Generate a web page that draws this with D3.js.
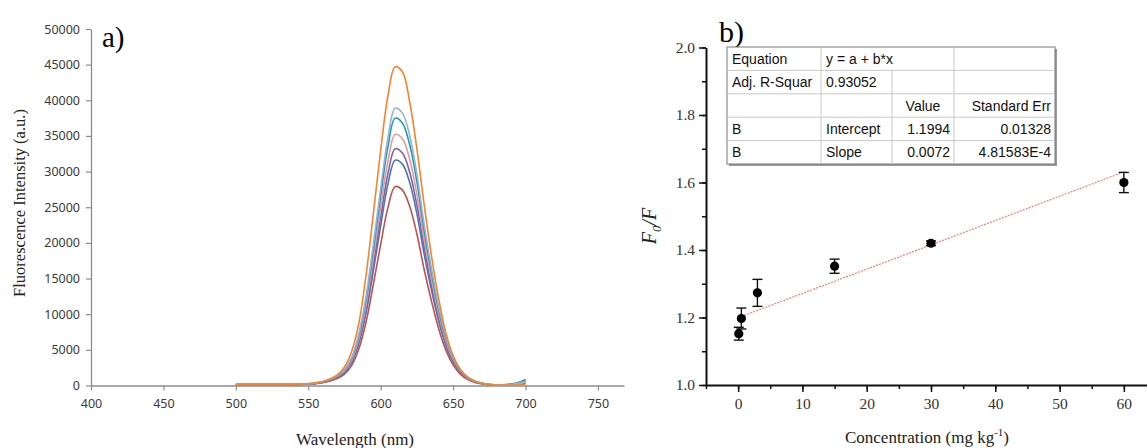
<!DOCTYPE html>
<html>
<head>
<meta charset="utf-8">
<script src="https://cdn.jsdelivr.net/npm/d3@7"></script>
<style>
  body { margin: 0; background: #fff; }
  svg { display: block; }
</style>
</head>
<body>
<div id="chart"></div>
<script>
// ---- panel a data : emission spectra ----
var wavelength = [500,505,510,515,520,525,530,535,540,545,550,555,560,565,570,575,580,585,590,595,600,605,610,615,620,625,630,635,640,645,650,655,660,665,670,675,680,685,690,695,700];

var orangeSeries = [150,150,150,150,150,150,150,150,170,200,260,380,550,900,1500,2600,4800,8800,15600,24200,33000,40600,44700,44000,39800,33200,25400,18300,12200,7400,4200,2250,1180,600,300,150,80,50,50,70,120];
var lightBlueSeries = [160,160,160,160,160,160,160,160,160,200,240,350,550,870,1380,2250,3940,7300,12600,19900,27600,34700,38900,38200,35100,29600,22600,16500,11100,6900,4000,2250,1180,620,320,160,80,80,150,300,550];
var tealSeries = [160,160,160,160,160,160,160,160,160,190,230,340,530,840,1330,2170,3800,7050,12150,19150,26600,33500,37500,36800,33800,28600,21800,15900,10700,6650,3900,2150,1160,600,300,150,80,100,200,420,850];
var pinkSeries = [140,140,140,140,140,140,140,140,140,180,210,320,500,790,1250,2030,3570,6620,11400,18000,25000,31450,35200,34600,31750,26850,20550,15000,10100,6250,3650,2020,1080,560,290,140,70,70,120,250,450];
var purpleSeries = [135,135,135,135,135,135,135,135,135,170,200,300,470,740,1180,1920,3370,6250,10750,17000,23550,29700,33200,32600,29950,25300,19400,14100,9500,5900,3450,1900,1020,530,270,135,70,70,110,220,400];
var blueSeries = [130,130,130,130,130,130,130,130,130,160,190,290,450,700,1120,1830,3200,5950,10250,16150,22400,28250,31600,31050,28500,24100,18450,13450,9050,5620,3280,1820,970,500,260,130,65,90,180,360,700];
var redSeries = [115,115,115,115,115,115,115,115,115,140,170,250,400,620,990,1610,2830,5200,8980,14250,19800,24950,27900,27400,25150,21250,16300,11900,8000,4960,2900,1600,860,440,230,110,60,60,90,180,320];

var spectra = [
  {values: redSeries, color: "#c0504d"},
  {values: blueSeries, color: "#4a76b8"},
  {values: purpleSeries, color: "#7f62a5"},
  {values: pinkSeries, color: "#e39a9c"},
  {values: tealSeries, color: "#1d98b0"},
  {values: lightBlueSeries, color: "#95b3d7"},
  {values: orangeSeries, color: "#f5852c"}
];

var aXTicks = [400,450,500,550,600,650,700,750];
var aYTicks = [0,5000,10000,15000,20000,25000,30000,35000,40000,45000,50000];

// ---- panel b data : Stern-Volmer style plot ----
var concentration = [0.1, 0.5, 3, 15, 30, 60];
var ratio = [1.152, 1.197, 1.273, 1.352, 1.420, 1.600];
var ratioErr = [0.019, 0.031, 0.040, 0.021, 0.007, 0.030];
var fitIntercept = 1.1994, fitSlope = 0.0072;
var fitRange = [0.5, 60];

var bXTicks = [0,10,20,30,40,50,60];
var bYTicks = [1.0,1.2,1.4,1.6,1.8,2.0];

var tableRows = [
  ["Equation", "y = a + b*x", "", ""],
  ["Adj. R-Squar", "0.93052", "", ""],
  ["", "", "Value", "Standard Err"],
  ["B", "Intercept", "1.1994", "0.01328"],
  ["B", "Slope", "0.0072", "4.81583E-4"]
];

var width = 1147, height = 448;
var serif = "'Liberation Serif', 'Times New Roman', serif";

var svg = d3.select("#chart").append("svg")
  .attr("width", width)
  .attr("height", height);

svg.append("rect").attr("width", width).attr("height", height).attr("fill", "#fff");

// ================= panel a =================
var xa = d3.scaleLinear().domain([400, 768]).range([91, 624]);
var ya = d3.scaleLinear().domain([0, 50000]).range([385.5, 29]);

var ga = svg.append("g");

var axA = ga.append("g")
  .attr("transform", "translate(0," + ya(0) + ")")
  .call(d3.axisBottom(xa).tickValues(aXTicks).tickSize(5).tickPadding(6).tickFormat(d3.format("d")).tickSizeOuter(0));
var ayA = ga.append("g")
  .attr("transform", "translate(" + xa(400) + ",0)")
  .call(d3.axisLeft(ya).tickValues(aYTicks).tickSize(5).tickPadding(6).tickFormat(d3.format("d")).tickSizeOuter(0));

[axA, ayA].forEach(function(g) {
  g.attr("font-family", "'Noto Sans', sans-serif").attr("font-size", 12.5);
  g.select(".domain").attr("stroke", "#8c8c8c").attr("stroke-width", 1.3);
  g.selectAll(".tick line").attr("stroke", "#8c8c8c").attr("stroke-width", 1.2);
  g.selectAll(".tick text").attr("fill", "#3a3a3a");
});
axA.selectAll(".tick text").attr("dy", "0.9em");

var lineA = d3.line()
  .x(function(d, i) { return xa(wavelength[i]); })
  .y(function(d) { return ya(d); })
  .curve(d3.curveCatmullRom.alpha(0.5));

ga.selectAll(".spec")
  .data(spectra)
  .enter().append("path")
  .attr("class", "spec")
  .attr("fill", "none")
  .attr("stroke", function(d) { return d.color; })
  .attr("stroke-width", 1.6)
  .attr("d", function(d) { return lineA(d.values); });

ga.append("text")
  .attr("x", 102).attr("y", 47)
  .style("font-family", serif)
  .style("font-size", "29px")
  .text("a)");

ga.append("text")
  .attr("transform", "translate(25,203) rotate(-90)")
  .attr("text-anchor", "middle")
  .style("font-family", serif)
  .style("font-size", "16.5px")
  .attr("fill", "#222")
  .text("Fluorescence Intensity (a.u.)");

ga.append("text")
  .attr("x", 355).attr("y", 445)
  .attr("text-anchor", "middle")
  .style("font-family", serif)
  .style("font-size", "17px")
  .attr("fill", "#222")
  .text("Wavelength (nm)");

// ================= panel b =================
var xb = d3.scaleLinear().domain([-5, 65]).range([706, 1156]);
var yb = d3.scaleLinear().domain([1, 2]).range([385, 47.5]);

var gb = svg.append("g");

// minor ticks
gb.append("g")
  .attr("class", "minor")
  .attr("transform", "translate(0," + yb(1) + ")")
  .call(d3.axisBottom(xb).tickValues(d3.range(-5, 66, 5)).tickSize(4).tickFormat("").tickSizeOuter(0));
gb.append("g")
  .attr("class", "minor")
  .attr("transform", "translate(" + xb(-5) + ",0)")
  .call(d3.axisLeft(yb).tickValues(d3.range(1, 2.01, 0.1)).tickSize(4).tickFormat("").tickSizeOuter(0));

var axB = gb.append("g")
  .attr("transform", "translate(0," + yb(1) + ")")
  .call(d3.axisBottom(xb).tickValues(bXTicks).tickSize(7).tickPadding(4).tickFormat(d3.format("d")).tickSizeOuter(0));
var ayB = gb.append("g")
  .attr("transform", "translate(" + xb(-5) + ",0)")
  .call(d3.axisLeft(yb).tickValues(bYTicks).tickSize(7).tickPadding(4).tickFormat(d3.format(".1f")).tickSizeOuter(0));

gb.selectAll(".minor .domain").remove();
gb.selectAll(".minor .tick line").attr("stroke", "#111").attr("stroke-width", 1.5);
[axB, ayB].forEach(function(g) {
  g.attr("font-family", serif).attr("font-size", 15.5);
  g.select(".domain").attr("stroke", "#111").attr("stroke-width", 2);
  g.selectAll(".tick line").attr("stroke", "#111").attr("stroke-width", 1.5);
  g.selectAll(".tick text").attr("fill", "#333");
});
axB.selectAll(".tick text").attr("dy", "0.85em");

// fit line
gb.append("line")
  .attr("x1", xb(fitRange[0])).attr("y1", yb(fitIntercept + fitSlope * fitRange[0]))
  .attr("x2", xb(fitRange[1])).attr("y2", yb(fitIntercept + fitSlope * fitRange[1]))
  .attr("stroke", "#ff7070")
  .attr("stroke-width", 1.1)
  .attr("stroke-dasharray", "2,1.2");

var pts = concentration.map(function(c, i) { return {x: c, y: ratio[i], e: ratioErr[i]}; });

var eb = gb.selectAll(".err").data(pts).enter().append("g").attr("class", "err")
  .attr("stroke", "#111").attr("stroke-width", 1.4);
eb.append("line")
  .attr("x1", function(d) { return xb(d.x); }).attr("x2", function(d) { return xb(d.x); })
  .attr("y1", function(d) { return yb(d.y - d.e); }).attr("y2", function(d) { return yb(d.y + d.e); });
eb.append("line")
  .attr("x1", function(d) { return xb(d.x) - 5; }).attr("x2", function(d) { return xb(d.x) + 5; })
  .attr("y1", function(d) { return yb(d.y + d.e); }).attr("y2", function(d) { return yb(d.y + d.e); });
eb.append("line")
  .attr("x1", function(d) { return xb(d.x) - 5; }).attr("x2", function(d) { return xb(d.x) + 5; })
  .attr("y1", function(d) { return yb(d.y - d.e); }).attr("y2", function(d) { return yb(d.y - d.e); });

gb.selectAll(".dot").data(pts).enter().append("circle")
  .attr("class", "dot")
  .attr("cx", function(d) { return xb(d.x); })
  .attr("cy", function(d) { return yb(d.y); })
  .attr("r", 4.6)
  .attr("fill", "#000");

gb.append("text")
  .attr("x", 719).attr("y", 42)
  .style("font-family", serif)
  .style("font-size", "30px")
  .text("b)");

var yl = gb.append("text")
  .attr("transform", "translate(656,226) rotate(-90)")
  .attr("text-anchor", "middle")
  .style("font-family", serif)
  .style("font-size", "20px")
  .style("font-style", "italic")
  .attr("fill", "#222");
yl.append("tspan").text("F");
yl.append("tspan").attr("dy", 5).style("font-size", "13px").text("0");
yl.append("tspan").attr("dy", -5).text("/F");

var xl = gb.append("text")
  .attr("x", 927).attr("y", 443)
  .attr("text-anchor", "middle")
  .style("font-family", serif)
  .style("font-size", "17px")
  .attr("fill", "#222");
xl.append("tspan").text("Concentration (mg kg");
xl.append("tspan").attr("dy", -7).style("font-size", "11px").text("-1");
xl.append("tspan").attr("dy", 7).text(")");

// results table
var colX = [727, 821, 892, 954, 1055];
var rowY = d3.scaleLinear().domain([0, tableRows.length]).range([47, 164]);
var tb = gb.append("g");

tb.append("rect")
  .attr("x", colX[0] + 2).attr("y", rowY(0) + 2)
  .attr("width", colX[4] - colX[0]).attr("height", rowY(5) - rowY(0))
  .attr("fill", "#9a9a9a");
tb.append("rect")
  .attr("x", colX[0]).attr("y", rowY(0))
  .attr("width", colX[4] - colX[0]).attr("height", rowY(5) - rowY(0))
  .attr("fill", "#fff").attr("stroke", "#777").attr("stroke-width", 1);

d3.range(1, tableRows.length).forEach(function(r) {
  tb.append("line")
    .attr("x1", colX[0]).attr("x2", colX[4])
    .attr("y1", rowY(r)).attr("y2", rowY(r))
    .attr("stroke", "#c8c8c8");
});
tableRows.forEach(function(row, r) {
  [1, 2, 3].forEach(function(c) {
    if (r === 0 && c === 2) return;
    tb.append("line")
      .attr("x1", colX[c]).attr("x2", colX[c])
      .attr("y1", rowY(r)).attr("y2", rowY(r + 1))
      .attr("stroke", "#c8c8c8");
  });
  row.forEach(function(txt, c) {
    if (!txt) return;
    var right = (c >= 2 && r >= 3) || (c === 3);
    var center = (c === 2 && r === 2);
    tb.append("text")
      .attr("x", center ? (colX[2] + colX[3]) / 2 : right ? colX[c + 1] - 4 : colX[c] + 5)
      .attr("y", rowY(r + 0.5) + 5)
      .attr("text-anchor", center ? "middle" : right ? "end" : "start")
      .style("font-family", "'Liberation Sans', Arial, sans-serif")
      .style("font-size", "14px")
      .attr("fill", "#111")
      .text(txt);
  });
});
</script>
</body>
</html>
